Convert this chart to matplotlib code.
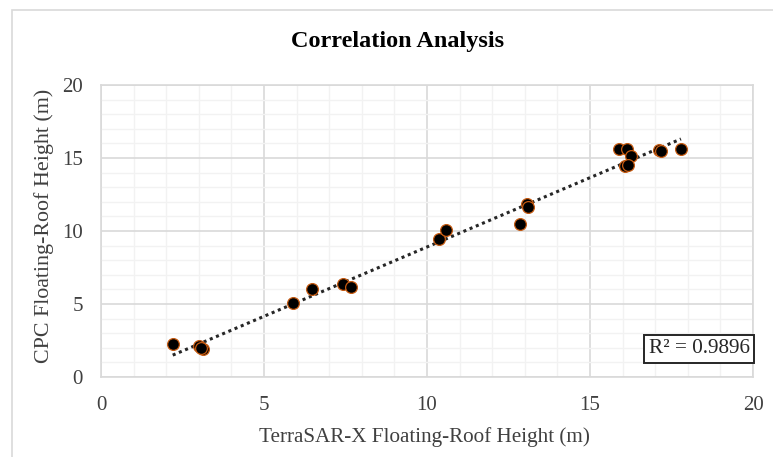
import matplotlib
matplotlib.use("Agg")
import matplotlib.pyplot as plt
import numpy as np
from matplotlib.patches import Rectangle
from matplotlib.ticker import MultipleLocator

terrasar_x = [2.20, 3.02, 3.14, 3.08, 5.88, 6.48, 7.41, 7.66, 10.38, 10.57, 12.85,
              13.07, 13.09, 15.90, 16.13, 16.26, 16.07, 16.17, 17.13, 17.18, 17.79]
cpc_height = [2.25, 2.10, 1.91, 2.00, 5.07, 6.00, 6.40, 6.17, 9.47, 10.05, 10.50,
              11.85, 11.65, 15.60, 15.60, 15.15, 14.42, 14.54, 15.56, 15.50, 15.60]
r2_text = "R² = 0.9896"
title = "Correlation Analysis"
xlabel = "TerraSAR-X Floating-Roof Height (m)"
ylabel = "CPC Floating-Roof Height (m)"

plt.rcParams['font.family'] = ['Liberation Serif', 'DejaVu Serif']

W, H = 773, 457
fig = plt.figure(figsize=(W / 100, H / 100), dpi=100)
fig.patch.set_facecolor('white')

# outer chart border
fig.patches.append(Rectangle((12 / W, -0.1), 1.1, (H - 10) / H + 0.1, transform=fig.transFigure,
                             fill=False, edgecolor='#d9d9d9', linewidth=1.2))

left, right, top, bottom = 101, 753, 85, 377
ax = fig.add_axes([left / W, (H - bottom) / H, (right - left) / W, (bottom - top) / H])

ax.set_xlim(0, 20)
ax.set_ylim(0, 20)
ax.xaxis.set_major_locator(MultipleLocator(5))
ax.yaxis.set_major_locator(MultipleLocator(5))
ax.xaxis.set_minor_locator(MultipleLocator(1))
ax.yaxis.set_minor_locator(MultipleLocator(1))
ax.grid(which='major', color='#d9d9d9', linewidth=1.2)
ax.grid(which='minor', color='#f2f2f2', linewidth=1.0)
ax.set_axisbelow(True)
for s in ax.spines.values():
    s.set_color('#d9d9d9')
    s.set_linewidth(1.2)
ax.tick_params(which='both', length=0)
ax.tick_params(axis='x', pad=14, labelsize=15, colors='#404040')
ax.tick_params(axis='y', pad=13, labelsize=15, colors='#404040')

x = np.array(terrasar_x)
y = np.array(cpc_height)
coef = np.polyfit(x, y, 1)
xs = np.array([x.min(), x.max()])
ax.plot(xs, np.polyval(coef, xs), linestyle=(0, (1, 1.2)), color='#262626', linewidth=2.2, zorder=2)

ax.scatter(x, y, s=72, facecolor='black', edgecolor='#C55A11', linewidth=0.9, zorder=3)

ax.text(0.995, 0.096, r2_text, transform=ax.transAxes, ha='right', va='center', fontsize=15.3,
        color='#262626',
        bbox=dict(boxstyle='square,pad=0.22', facecolor='white', edgecolor='#262626', linewidth=1.4))

fig.text(398 / W, 1 - 42 / H, title, ha='center', va='center', fontsize=17.5, fontweight='bold')
fig.text(424 / W, 1 - 437 / H, xlabel, ha='center', va='center', fontsize=15.2, color='#404040')
fig.text(44 / W, 1 - 226 / H, ylabel, ha='center', va='center', fontsize=15.8, color='#404040', rotation=90)

fig.savefig('out.png', dpi=100)
